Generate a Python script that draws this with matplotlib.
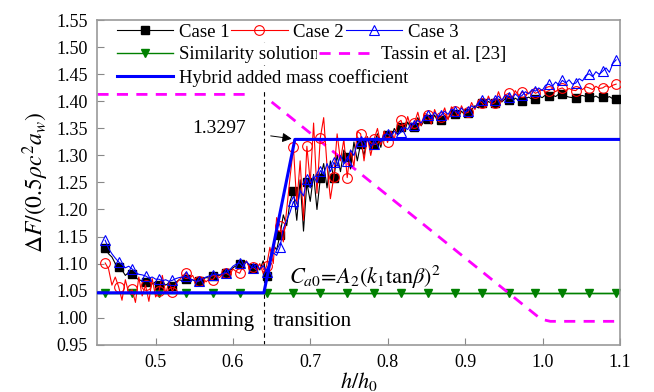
import numpy as np
import matplotlib
matplotlib.use("Agg")
import matplotlib.pyplot as plt

plt.rcParams['font.family'] = ['Liberation Serif', 'DejaVu Serif']
plt.rcParams['mathtext.fontset'] = 'stix'

# sample grid of the numerical cases (markers on every 4th sample)
h = np.linspace(0.435, 1.095, 153)

case1 = [
    1.129, 1.118, 1.112, 1.100, 1.093, 1.088, 1.078, 1.084,
    1.080, 1.074, 1.070, 1.068, 1.065, 1.070, 1.062, 1.066,
    1.061, 1.066, 1.060, 1.064, 1.059, 1.065, 1.070, 1.068,
    1.072, 1.068, 1.070, 1.066, 1.068, 1.071, 1.074, 1.073,
    1.076, 1.079, 1.078, 1.081, 1.082, 1.086, 1.092, 1.096,
    1.100, 1.096, 1.104, 1.094, 1.092, 1.100, 1.088, 1.105,
    1.077, 1.110, 1.135, 1.125, 1.153, 1.190, 1.170, 1.215,
    1.235, 1.180, 1.255, 1.160, 1.250, 1.215, 1.265, 1.200,
    1.258, 1.285, 1.240, 1.290, 1.258, 1.300, 1.270, 1.310,
    1.298, 1.275, 1.325, 1.290, 1.322, 1.300, 1.335, 1.310,
    1.322, 1.340, 1.315, 1.345, 1.338, 1.330, 1.350, 1.340,
    1.352, 1.345, 1.362, 1.348, 1.352, 1.370, 1.355, 1.365,
    1.368, 1.360, 1.375, 1.362, 1.366, 1.374, 1.368, 1.380,
    1.376, 1.370, 1.382, 1.375, 1.378, 1.385, 1.392, 1.388,
    1.398, 1.392, 1.400, 1.396, 1.398, 1.404, 1.399, 1.405,
    1.403, 1.400, 1.406, 1.402, 1.400, 1.405, 1.408, 1.404,
    1.405, 1.410, 1.407, 1.412, 1.410, 1.412, 1.409, 1.414,
    1.413, 1.410, 1.408, 1.407, 1.406, 1.410, 1.411, 1.409,
    1.409, 1.407, 1.410, 1.406, 1.408, 1.406, 1.409, 1.405,
    1.405]

case2 = [
    1.101, 1.090, 1.060, 1.075, 1.057, 1.032, 1.070, 1.045,
    1.052, 1.028, 1.075, 1.040, 1.060, 1.030, 1.072, 1.038,
    1.049, 1.078, 1.045, 1.066, 1.048, 1.062, 1.070, 1.076,
    1.083, 1.072, 1.078, 1.066, 1.068, 1.074, 1.066, 1.072,
    1.070, 1.078, 1.074, 1.080, 1.082, 1.078, 1.090, 1.085,
    1.082, 1.095, 1.105, 1.090, 1.093, 1.088, 1.100, 1.082,
    1.095, 1.130, 1.100, 1.185, 1.170, 1.140, 1.200, 1.260,
    1.315, 1.210, 1.290, 1.180, 1.317, 1.250, 1.360, 1.230,
    1.333, 1.370, 1.280, 1.220, 1.260, 1.340, 1.290, 1.330,
    1.259, 1.310, 1.280, 1.345, 1.340, 1.290, 1.335, 1.300,
    1.330, 1.350, 1.320, 1.345, 1.324, 1.345, 1.330, 1.360,
    1.365, 1.345, 1.372, 1.350, 1.360, 1.380, 1.355, 1.378,
    1.375, 1.358, 1.385, 1.368, 1.372, 1.388, 1.366, 1.390,
    1.383, 1.372, 1.392, 1.378, 1.380, 1.398, 1.385, 1.402,
    1.398, 1.390, 1.410, 1.395, 1.398, 1.418, 1.400, 1.412,
    1.415, 1.405, 1.420, 1.410, 1.418, 1.412, 1.416, 1.420,
    1.415, 1.418, 1.422, 1.417, 1.420, 1.424, 1.418, 1.423,
    1.425, 1.420, 1.424, 1.421, 1.420, 1.426, 1.422, 1.427,
    1.425, 1.422, 1.428, 1.424, 1.425, 1.429, 1.426, 1.430,
    1.432]

case3 = [
    1.143, 1.128, 1.118, 1.110, 1.103, 1.098, 1.092, 1.095,
    1.090, 1.084, 1.080, 1.079, 1.077, 1.073, 1.075, 1.071,
    1.071, 1.068, 1.070, 1.067, 1.069, 1.072, 1.074, 1.075,
    1.076, 1.072, 1.070, 1.067, 1.068, 1.072, 1.075, 1.077,
    1.079, 1.081, 1.079, 1.082, 1.083, 1.088, 1.095, 1.099,
    1.101, 1.094, 1.104, 1.097, 1.092, 1.098, 1.090, 1.096,
    1.085, 1.105, 1.120, 1.115, 1.130, 1.165, 1.180, 1.195,
    1.215, 1.200, 1.235, 1.225, 1.256, 1.240, 1.262, 1.250,
    1.272, 1.265, 1.285, 1.270, 1.287, 1.280, 1.300, 1.285,
    1.290, 1.310, 1.300, 1.322, 1.327, 1.315, 1.330, 1.318,
    1.321, 1.333, 1.325, 1.338, 1.340, 1.335, 1.345, 1.338,
    1.343, 1.352, 1.348, 1.360, 1.357, 1.365, 1.360, 1.372,
    1.374, 1.368, 1.380, 1.372, 1.375, 1.382, 1.376, 1.386,
    1.383, 1.378, 1.388, 1.380, 1.383, 1.392, 1.388, 1.398,
    1.403, 1.396, 1.405, 1.400, 1.403, 1.410, 1.402, 1.412,
    1.409, 1.405, 1.414, 1.408, 1.411, 1.418, 1.414, 1.422,
    1.419, 1.425, 1.420, 1.430, 1.432, 1.428, 1.436, 1.430,
    1.439, 1.434, 1.440, 1.432, 1.434, 1.442, 1.438, 1.448,
    1.451, 1.446, 1.455, 1.450, 1.456, 1.462, 1.454, 1.470,
    1.477]

ca0 = 1.0458          # similarity solution
peak = 1.3297         # hybrid plateau
hybrid_x = [0.425, 0.64, 0.68, 1.1]
hybrid_y = [ca0, ca0, peak, peak]
tassin_x = [0.425, 0.617, np.nan, 0.650, 0.998, 1.010, 1.095]
tassin_y = [1.413, 1.413, np.nan, 1.399, 0.997, 0.993, 0.993]

fig = plt.figure(figsize=(6.54, 3.92), dpi=100)
ax = fig.add_axes([0.149, 0.121, 0.799, 0.827])

ax.axvline(0.64, color='black', ls=(0, (4, 3)), lw=0.8, zorder=1)

l1, = ax.plot(h, case1, color='black', lw=0.8, marker='s', ms=6,
              markevery=4, mfc='black', mec='black', zorder=3)
l2, = ax.plot(h, case2, color='red', lw=0.8, marker='o', ms=7,
              markevery=4, mfc='none', mec='red', mew=0.8, zorder=4)
l3, = ax.plot(h, case3, color='blue', lw=0.8, marker='^', ms=7,
              markevery=4, mfc='none', mec='blue', mew=0.8, zorder=5)
ax.plot([0.425, 1.1], [ca0, ca0], color='green', lw=1.0, zorder=2)
ls, = ax.plot(h, [ca0] * len(h), color='green', lw=1.0, marker='v', ms=6,
              markevery=8, mfc='green', mec='green', zorder=2)
lt, = ax.plot(tassin_x, tassin_y, color='magenta', lw=2.0,
              ls=(0, (4, 3)), zorder=2)
lh, = ax.plot(hybrid_x, hybrid_y, color='blue', lw=2.2, zorder=6)

ax.set_xlim(0.425, 1.1)
ax.set_ylim(0.95, 1.55)
ax.set_xticks([0.5, 0.6, 0.7, 0.8, 0.9, 1.0, 1.1])
ax.set_yticks(np.arange(0.95, 1.551, 0.05))
ax.yaxis.set_major_formatter(matplotlib.ticker.FormatStrFormatter('%.2f'))
ax.xaxis.set_major_formatter(matplotlib.ticker.FormatStrFormatter('%.1f'))
ax.tick_params(direction='in', length=5, width=0.8, color='#888888',
               labelsize=13, pad=7)
for sp in ax.spines.values():
    sp.set_color('#999999')
    sp.set_linewidth(1.2)

ax.set_xlabel('$h/h_0$', fontsize=16, labelpad=-1)
ax.set_ylabel(r'$\Delta F/(0.5\rho c^2 a_w)$', fontsize=17, labelpad=4)

# legend entries placed one by one (flow layout as in the figure)
entries = [
    (l1, 'Case 1', 0.0335, 0.964),
    (l2, 'Case 2', 0.2527, 0.964),
    (l3, 'Case 3', 0.4716, 0.964),
    (ls, 'Similarity solution', 0.0335, 0.894),
    (lt, 'Tassin et al. [23]', 0.4200, 0.894),
    (lh, 'Hybrid added mass coefficient', 0.0335, 0.823),
]
for handle, label, xa, ya in entries:
    leg = ax.legend([handle], [label], loc='center left',
                    bbox_to_anchor=(xa, ya), frameon=True, fontsize=13.5,
                    handlelength=3.0, handletextpad=0.3, borderpad=0.1,
                    borderaxespad=0, markerscale=1.0)
    leg.get_frame().set_facecolor('white')
    leg.get_frame().set_edgecolor('none')
    leg.get_frame().set_alpha(1)
    leg.set_zorder(10)
    ax.add_artist(leg)

ax.annotate('1.3297', xy=(0.676, 1.331), xytext=(0.582, 1.349),
            fontsize=14, ha='center', va='center',
            arrowprops=dict(arrowstyle='-|>', color='black', lw=0.7,
                            mutation_scale=14, shrinkA=16, shrinkB=0))
ax.text(0.672, 1.075, r'$C_{a0}\!=\!A_2(k_1\mathrm{tan}\beta)^2$',
        fontsize=16, ha='left', va='center')
ax.text(0.574, 0.992, 'slamming', fontsize=15, ha='center', va='center')
ax.text(0.703, 0.992, 'transition', fontsize=15, ha='center', va='center')

fig.savefig('out.png', dpi=100)
